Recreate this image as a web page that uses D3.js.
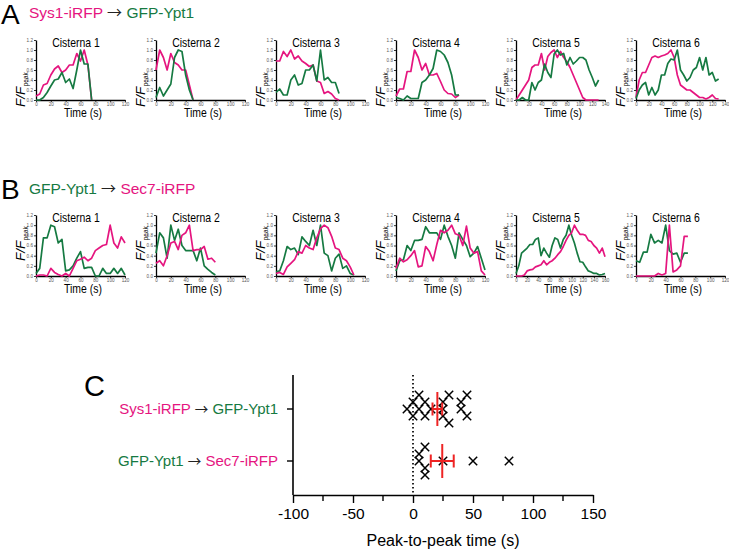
<!DOCTYPE html>
<html><head><meta charset="utf-8">
<script src="https://cdn.jsdelivr.net/npm/d3@7"></script>
<style>
body{margin:0;background:#fff;}
text{font-family:"Liberation Sans",Arial,sans-serif;}
</style></head>
<body><svg id="chart" width="729" height="549"></svg>
<script>
// ---------------- data ----------------
const cisternaNames = ["Cisterna 1","Cisterna 2","Cisterna 3","Cisterna 4","Cisterna 5","Cisterna 6"];
const frameInterval = 5; // s between frames
const yTicks = [0,0.2,0.4,0.6,0.8,1.0,1.2];

// Panel A : Sys1-iRFP (magenta) -> GFP-Ypt1 (green)
const aXMax = [120,120,120,120,140,140];
const aMagenta = [
  [0.08,0.12,0.3,0.33,0.5,0.62,0.68,0.55,0.6,0.7,0.7,0.93,0.78,1.0,0.7,0.0],
  [0.6,1.0,0.85,0.6,0.93,0.75,0.7,0.6,0.6,0.3,0.0],
  [0.78,0.78,0.97,0.87,1.0,0.82,0.88,0.78,0.73,0.67,0.7,0.38,0.35,0.13,0.17,0.12,0.03,0.0],
  [0.08,0.22,0.22,0.57,0.57,1.0,0.85,0.6,0.73,0.5,0.5,0.53,0.37,0.2,0.13,0.12,0.05,0.1],
  [0,0.1,0.2,0.3,0.4,0.65,0.7,0.7,0.93,0.6,0.87,0.95,1.0,0.85,0.97,0.85,0.77,0.65,0.5,0.35,0.2,0.05,0,0,0,0,0],
  [0.05,0.4,0.55,0.55,0.7,0.85,0.88,0.85,0.88,0.9,0.93,1.0,0.85,0.5,0.3,0.25,0.2,0.2,0.15,0.1,0.05,0.05,0.02,0.05,0.1,0.03,0.02]
];
const aGreen = [
  [0,0,0.05,0.15,0.28,0.4,0.42,0.55,0.35,0.42,0.23,0.6,1.0,0.72,0.72,0.0],
  [0.05,0.25,0.08,0.2,0.32,0.85,1.0,0.97,0.5,0.2,0.0],
  [0.15,0.22,0.1,0.1,0.4,0.5,0.3,0.33,0.6,0.6,0.7,0.38,1.0,0.4,0.45,0.35,0.35,0.13],
  [0.05,0.03,0.0,0.08,0.03,0.03,0.03,0.35,0.4,0.5,0.63,1.0,0.97,0.9,0.75,0.5,0.1,0.1],
  [0,0,0.05,0,0,0.35,0.2,0.35,0.4,0.72,0.55,0.45,0.92,1.0,0.9,0.93,0.7,0.85,0.72,0.78,0.85,0.85,0.8,0.6,0.45,0.28,0.4],
  [0.03,0.2,0.3,0.35,0.1,0.25,0.1,0.2,0.5,0.5,0.73,0.82,0.8,1.0,0.6,0.5,0.38,0.45,0.6,0.65,0.85,0.6,0.85,0.5,0.55,0.38,0.42]
];

// Panel B : GFP-Ypt1 (green) -> Sec7-iRFP (magenta)
const bXMax = [120,120,120,120,160,120];
const bGreen = [
  [0.05,0.15,0.75,0.75,1.0,0.97,0.65,0.72,0.1,0.12,0.2,0.35,0.48,0.15,0.17,0.17,0.0,0.0,0.15,0.05,0.05,0.15,0.05,0.15,0.02],
  [0.45,0.85,0.75,0.35,1.0,0.7,0.92,0.6,0.5,0.5,0.5,0.3,0.55,0.2,0.13,0.07,0.02],
  [0.08,0.1,0.3,0.58,0.52,0.55,0.42,0.77,0.68,0.6,0.9,0.6,1.0,0.45,0.4,0.1,0.35,0.43,0.15,0.2,0.05,0.02],
  [0.1,0.3,0.32,0.6,0.5,0.7,0.7,0.72,0.97,0.85,0.85,0.85,0.72,1.0,0.78,0.6,0.35,0.85,0.72,0.6,0.38,0.45,0.58,0.35,0.12],
  [0.05,0.2,0.45,0.5,0.55,0.62,0.62,0.72,0.75,0.4,0.55,0.45,0.37,0.6,0.75,0.72,0.55,0.72,0.8,1.0,0.8,0.65,0.45,0.28,0.27,0.18,0.1,0.08,0.05,0.05,0.02,0.03,0.05],
  [0.3,0.27,0.47,0.47,0.82,0.65,0.7,0.65,1.0,0.5,0.43,0.45,0.27,0.45,0.45]
];
const bMagenta = [
  [0,0.02,0.02,0,0.15,0.07,0.03,0,0.05,0,0.15,0.3,0.33,0.37,0.3,0.35,0.5,0.55,0.6,0.62,1.0,0.65,0.55,0.77,0.65],
  [0.25,0.3,0.2,0.4,0.65,0.68,0.52,0.8,0.85,1.0,0.5,0.52,0.52,0.58,0.33,0.35,0.27],
  [0.05,0.07,0.03,0.18,0.25,0.32,0.48,0.45,0.6,0.55,0.52,0.75,0.93,1.0,0.95,0.78,0.55,0.52,0.35,0.3,0.18,0.02],
  [0.15,0.35,0.28,0.32,0.4,0.5,0.18,0.2,0.58,0.48,0.3,0.62,0.9,0.85,0.9,1.0,0.83,0.8,0.6,0.98,0.55,0.45,0.48,0.1,0.02],
  [0,0,0,0.02,0.1,0.12,0.13,0.18,0.2,0.22,0.3,0.22,0.27,0.3,0.35,0.42,0.48,0.58,0.7,0.8,0.85,1.0,0.9,0.82,0.82,0.8,0.7,0.68,0.6,0.55,0.45,0.55,0.38],
  [0,0,0,0,0,0,0.05,0.02,0.05,1.0,0.08,0.12,0.2,0.78,0.78]
];

// Panel C : peak-to-peak times (s)
const cCategories = ["Sys1-iRFP → GFP-Ypt1","GFP-Ypt1 → Sec7-iRFP"];
const sysToYpt1 = [-5,0,0,5,5,10,10,15,25,25,25,30,30,40,40,45,45];
const ypt1ToSec7 = [5,5,10,10,10,25,50,80];
const cTicks = [-100,-50,0,50,100,150];
const cMinorTicks = [-75,-25,25,75,125];

// ---------------- drawing ----------------
const MAG = "#e5157f", GRN = "#167a42", RED = "#ee2424";
const ARROW_FONT = "Noto Sans CJK JP, DejaVu Sans, sans-serif";
const svg = d3.select("#chart");
svg.append("rect").attr("width",729).attr("height",549).attr("fill","#fff");

function titleLine(x, y, parts){
  const t = svg.append("text").attr("x",x).attr("y",y).attr("font-size",15.5);
  parts.forEach(p=>{
    const ts = t.append("tspan").attr("fill",p[1]).text(p[0]);
    if(p[2]) ts.attr("font-family",ARROW_FONT).attr("font-size",15);
  });
  return t;
}
svg.append("text").attr("x",1).attr("y",24).attr("font-size",28).text("A");
titleLine(29,18,[["Sys1-iRFP ",MAG],["→","#222",true],[" GFP-Ypt1",GRN]]);
svg.append("text").attr("x",1).attr("y",199).attr("font-size",28).text("B");
titleLine(29,194,[["GFP-Ypt1 ",GRN],["→","#222",true],[" Sec7-iRFP",MAG]]);

function smallChart(i, yTop, yBot, xmax, series, labelStart){
  const x0 = 36 + 120*i, w = 89;
  const x = d3.scaleLinear().domain([0,xmax]).range([x0,x0+w]);
  const y = d3.scaleLinear().domain([0,1.2]).range([yBot,yTop]);
  const g = svg.append("g");
  const xa = g.append("g").attr("transform",`translate(0,${yBot})`)
    .call(d3.axisBottom(x).tickValues(d3.range(0,xmax+1,20)).tickSize(2).tickSizeOuter(0).tickPadding(1));
  const ya = g.append("g").attr("transform",`translate(${x0},0)`)
    .call(d3.axisLeft(y).tickValues(yTicks).tickFormat(d3.format(".1f")).tickSize(2).tickSizeOuter(0).tickPadding(1));
  [xa,ya].forEach(a=>{
    a.select(".domain").attr("stroke","#000").attr("stroke-width",1.3);
    a.selectAll(".tick line").attr("stroke","#000").attr("stroke-width",0.8);
    a.selectAll(".tick text").attr("font-size",4.6).attr("fill","#555").attr("font-family","Liberation Sans, Arial, sans-serif");
  });
  const line = d3.line().x((d,k)=>x(k*frameInterval)).y(d=>y(d));
  series.forEach(s=>{
    g.append("path").datum(s.vals).attr("d",line).attr("fill","none")
      .attr("stroke",s.color).attr("stroke-width",1.7).attr("stroke-linejoin","round");
  });
  g.append("text").attr("transform",`translate(${x0+40},${yTop+6.5}) scale(0.87,1)`)
    .attr("text-anchor","middle").attr("font-size",12).text(cisternaNames[i]);
  g.append("text").attr("transform",`translate(${x0+47},${yBot+16.5}) scale(0.87,1)`)
    .attr("text-anchor","middle").attr("font-size",12).text("Time (s)");
  const lab = g.append("text").attr("transform",`translate(${x0-11},${labelStart}) rotate(-90)`)
    .attr("font-size",13.5);
  lab.append("tspan").attr("font-style","italic").text("F/F");
  lab.append("tspan").attr("font-size",6.5).attr("dy",3).attr("dx",0.5).text("peak");
}
for(let i=0;i<6;i++){
  smallChart(i,40,100,aXMax[i],[{vals:aMagenta[i],color:MAG},{vals:aGreen[i],color:GRN}],107);
  smallChart(i,215,276,bXMax[i],[{vals:bGreen[i],color:GRN},{vals:bMagenta[i],color:MAG}],261);
}

// ---------------- Panel C ----------------
svg.append("text").attr("x",84).attr("y",396).attr("font-size",29).text("C");
const cx = d3.scaleLinear().domain([-100,150]).range([293,593]);
const cy = d3.scalePoint().domain(cCategories).range([409,461]);
const cTop = 375, cBot = 495;
const cg = svg.append("g");
cg.append("line").attr("x1",293).attr("x2",293).attr("y1",cTop).attr("y2",cBot).attr("stroke","#000").attr("stroke-width",1.6);
const xAxisC = cg.append("g").attr("transform",`translate(0,${cBot})`)
  .call(d3.axisBottom(cx).tickValues(cTicks).tickFormat(d=>String(d)).tickSize(8).tickSizeOuter(0).tickPadding(5));
xAxisC.select(".domain").attr("stroke-width",1.6);
xAxisC.selectAll(".tick line").attr("stroke-width",1.4);
xAxisC.selectAll(".tick text").attr("font-size",15.5).attr("fill","#000").attr("font-family","Liberation Sans, Arial, sans-serif");
cg.selectAll(".minor").data(cMinorTicks).enter().append("line")
  .attr("x1",d=>cx(d)).attr("x2",d=>cx(d)).attr("y1",cBot).attr("y2",cBot+6)
  .attr("stroke","#000").attr("stroke-width",1.4);
cg.append("text").attr("x",443).attr("y",546).attr("text-anchor","middle").attr("font-size",16).text("Peak-to-peak time (s)");
// category ticks & labels
const catColors = [[MAG,GRN],[GRN,MAG]];
cCategories.forEach((c,k)=>{
  cg.append("line").attr("x1",287).attr("x2",293).attr("y1",cy(c)).attr("y2",cy(c)).attr("stroke","#000").attr("stroke-width",1.4);
  const parts = c.split(" → ");
  const t = cg.append("text").attr("x",278).attr("y",cy(c)+5).attr("text-anchor","end").attr("font-size",15);
  t.append("tspan").attr("fill",catColors[k][0]).text(parts[0] + " ");
  t.append("tspan").attr("fill","#222").attr("font-family",ARROW_FONT).attr("font-size",13.5).text("→");
  t.append("tspan").attr("fill",catColors[k][1]).text(" " + parts[1]);
});
// dotted zero line
cg.append("line").attr("x1",cx(0)).attr("x2",cx(0)).attr("y1",cTop).attr("y2",cBot)
  .attr("stroke","#000").attr("stroke-width",1.7).attr("stroke-dasharray","1.6,2.4");

function swarm(values, rowY){
  const placed = [];
  const order = values.map((v,i)=>({v,i})).sort((a,b)=>a.v-b.v);
  const offs = [0,-1,1,-2,2,-3,3];
  const step = 7, minDist = 7;
  order.forEach(o=>{
    const px = cx(o.v);
    let py = rowY;
    for(const k of offs){
      const cand = rowY + k*step;
      if(placed.every(p=>Math.hypot(p.x-px,p.y-cand) >= minDist)){ py = cand; break; }
    }
    placed.push({x:px,y:py,v:o.v});
  });
  return placed;
}
function drawRow(values, cat){
  const rowY = cy(cat);
  const pts = swarm(values,rowY);
  const r = 4.2;
  cg.selectAll(null).data(pts).enter().append("path")
    .attr("d",d=>`M${d.x-r},${d.y-r}L${d.x+r},${d.y+r}M${d.x-r},${d.y+r}L${d.x+r},${d.y-r}`)
    .attr("stroke","#000").attr("stroke-width",1.5).attr("fill","none");
  const m = d3.mean(values);
  const sem = d3.deviation(values)/Math.sqrt(values.length);
  const eg = cg.append("g").attr("stroke",RED).attr("stroke-width",2);
  eg.append("line").attr("x1",cx(m)).attr("x2",cx(m)).attr("y1",rowY-17).attr("y2",rowY+17);
  eg.append("line").attr("x1",cx(m-sem)).attr("x2",cx(m+sem)).attr("y1",rowY).attr("y2",rowY);
  [m-sem,m+sem].forEach(v=>eg.append("line").attr("x1",cx(v)).attr("x2",cx(v)).attr("y1",rowY-6.5).attr("y2",rowY+6.5));
}
drawRow(sysToYpt1, cCategories[0]);
drawRow(ypt1ToSec7, cCategories[1]);
</script></body></html>
